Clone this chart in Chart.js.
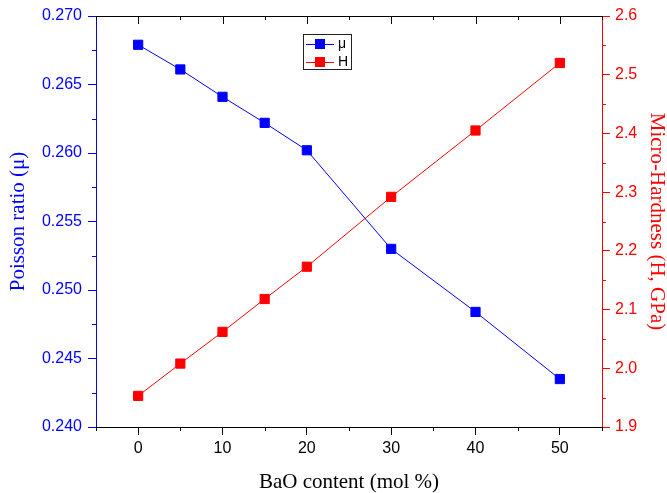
<!DOCTYPE html>
<html>
<head>
<meta charset="utf-8">
<title>Poisson ratio and micro-hardness vs BaO content</title>
<script src="https://cdn.jsdelivr.net/npm/chart.js@4.4.0/dist/chart.umd.min.js"></script>
<style>
  html, body { margin: 0; padding: 0; background: #fff; }
  #wrap { width: 667px; height: 493px; }
</style>
</head>
<body>
<div id="wrap"><canvas id="chart" width="667" height="493"></canvas></div>
<script>
// values
const baoContent = [0, 5, 10, 15, 20, 30, 40, 50];
const poissonRatio = [0.2679, 0.2661, 0.2641, 0.2622, 0.2602, 0.2530, 0.2484, 0.2435];
const microHardness = [1.953, 2.008, 2.062, 2.118, 2.173, 2.292, 2.405, 2.520];

const xTicks = [0, 10, 20, 30, 40, 50];
const poissonTicks = [0.240, 0.245, 0.250, 0.255, 0.260, 0.265, 0.270];
const hardnessTicks = [1.9, 2.0, 2.1, 2.2, 2.3, 2.4, 2.5, 2.6];
const seriesNames = ['μ', 'H'];

const BLUE = '#0000ff';
const RED = '#ff0000';
const SANS = '"Liberation Sans", Arial, sans-serif';
const SERIF = '"Liberation Serif", "Times New Roman", serif';

// midpoints between major ticks (plus half a step outside), clipped to the axis range
const minorValues = (scale) => {
  const vals = scale.ticks.map(t => t.value);
  const step = vals[1] - vals[0];
  const out = [vals[0] - step / 2];
  vals.forEach(v => out.push(v + step / 2));
  return out.filter(v => v >= scale.min - 1e-9 && v <= scale.max + 1e-9);
};

const axisExtras = {
  id: 'axisExtras',
  afterDraw(chart) {
    const ctx = chart.ctx;
    const area = chart.chartArea;
    const { x, y, y1 } = chart.scales;
    ctx.save();
    ctx.lineWidth = 1;

    // top frame line + inward ticks
    ctx.strokeStyle = '#000';
    ctx.beginPath();
    ctx.moveTo(area.left, area.top + 0.5);
    ctx.lineTo(area.right, area.top + 0.5);
    x.ticks.forEach(t => {
      const px = Math.round(x.getPixelForValue(t.value)) + 0.5;
      ctx.moveTo(px, area.top);
      ctx.lineTo(px, area.top + 8);
    });
    minorValues(x).forEach(v => {
      const px = Math.round(x.getPixelForValue(v)) + 0.5;
      ctx.moveTo(px, area.top);
      ctx.lineTo(px, area.top + 4);
      // bottom minor ticks
      ctx.moveTo(px, area.bottom);
      ctx.lineTo(px, area.bottom + 4);
    });
    ctx.stroke();

    // left minor ticks
    ctx.strokeStyle = BLUE;
    ctx.beginPath();
    minorValues(y).forEach(v => {
      const py = Math.round(y.getPixelForValue(v)) + 0.5;
      ctx.moveTo(area.left - 4, py);
      ctx.lineTo(area.left, py);
    });
    ctx.stroke();

    // right minor ticks
    ctx.strokeStyle = RED;
    ctx.beginPath();
    minorValues(y1).forEach(v => {
      const py = Math.round(y1.getPixelForValue(v)) + 0.5;
      ctx.moveTo(area.right, py);
      ctx.lineTo(area.right + 4, py);
    });
    ctx.stroke();
    ctx.restore();
  }
};

// boxed legend with line + square symbol, like the original
const boxLegend = {
  id: 'boxLegend',
  afterDatasetsDraw(chart) {
    const ctx = chart.ctx;
    const area = chart.chartArea;
    const left = area.left + 207;
    const top = area.top + 18;
    const w = 48, h = 35;
    ctx.save();
    ctx.fillStyle = '#fff';
    ctx.fillRect(left, top, w, h);
    ctx.strokeStyle = '#222';
    ctx.lineWidth = 1;
    ctx.strokeRect(left + 0.5, top + 0.5, w, h);
    chart.data.datasets.forEach((ds, i) => {
      const cy = Math.round(top + 10 + i * 17.5) + 0.5;
      ctx.strokeStyle = ds.borderColor;
      ctx.beginPath();
      ctx.moveTo(left + 3, cy);
      ctx.lineTo(left + 31, cy);
      ctx.stroke();
      ctx.fillStyle = ds.borderColor;
      ctx.fillRect(left + 12, cy - 5.5, 10, 10);
      ctx.fillStyle = '#000';
      ctx.font = '14px ' + SANS;
      ctx.textBaseline = 'middle';
      ctx.fillText(ds.label, left + 35, cy);
    });
    ctx.restore();
  }
};

const ctx = document.getElementById('chart');

new Chart(ctx, {
  type: 'line',
  data: {
    datasets: [
      {
        label: seriesNames[0],
        data: baoContent.map((v, i) => ({ x: v, y: poissonRatio[i] })),
        yAxisID: 'y',
        borderColor: BLUE,
        backgroundColor: BLUE,
        borderWidth: 1,
        pointStyle: 'rect',
        pointRadius: 6.5,
        pointBorderWidth: 1,
        pointBorderColor: BLUE,
        pointBackgroundColor: BLUE,
        tension: 0,
      },
      {
        label: seriesNames[1],
        data: baoContent.map((v, i) => ({ x: v, y: microHardness[i] })),
        yAxisID: 'y1',
        borderColor: RED,
        backgroundColor: RED,
        borderWidth: 1,
        pointStyle: 'rect',
        pointRadius: 6.5,
        pointBorderWidth: 1,
        pointBorderColor: RED,
        pointBackgroundColor: RED,
        tension: 0,
      },
    ],
  },
  options: {
    responsive: false,
    animation: false,
    devicePixelRatio: 1,
    layout: { padding: { top: 16, left: 0, right: 0, bottom: 0 } },
    plugins: {
      legend: { display: false },
      tooltip: { enabled: false },
    },
    scales: {
      x: {
        type: 'linear',
        position: 'bottom',
        min: -5,
        max: 55,
        afterBuildTicks: (s) => { s.ticks = xTicks.map(v => ({ value: v })); },
        afterFit: (s) => { s.height = 66; },
        grid: { drawOnChartArea: false, tickLength: 8, tickColor: '#000' },
        border: { color: '#000', width: 1 },
        ticks: {
          color: '#000',
          font: { family: SANS, size: 16 },
          padding: 4,
          maxRotation: 0,
          autoSkip: false,
        },
        title: {
          display: true,
          text: 'BaO content (mol %)',
          color: '#000',
          font: { family: SERIF, size: 21, lineHeight: 1 },
          padding: { top: 0, bottom: 0 },
        },
      },
      y: {
        type: 'linear',
        position: 'left',
        min: 0.24,
        max: 0.27,
        afterBuildTicks: (s) => { s.ticks = poissonTicks.map(v => ({ value: v })); },
        afterFit: (s) => { s.width = 96; },
        grid: { drawOnChartArea: false, tickLength: 8, tickColor: BLUE },
        border: { color: BLUE, width: 1 },
        ticks: {
          color: BLUE,
          font: { family: SANS, size: 16 },
          padding: 6,
          autoSkip: false,
          callback: (v) => v.toFixed(3),
        },
        title: {
          display: true,
          text: 'Poisson ratio (μ)',
          color: BLUE,
          font: { family: SERIF, size: 21, lineHeight: 1 },
          padding: { top: 8, bottom: 0 },
        },
      },
      y1: {
        type: 'linear',
        position: 'right',
        min: 1.9,
        max: 2.6,
        afterBuildTicks: (s) => { s.ticks = hardnessTicks.map(v => ({ value: v })); },
        afterFit: (s) => { s.width = 65; },
        grid: { drawOnChartArea: false, tickLength: 8, tickColor: RED },
        border: { color: RED, width: 1 },
        ticks: {
          color: RED,
          font: { family: SANS, size: 16 },
          padding: 5,
          autoSkip: false,
          callback: (v) => v.toFixed(1),
        },
        title: {
          display: true,
          text: 'Micro-Hardness (H, GPa)',
          color: RED,
          font: { family: SERIF, size: 21, lineHeight: 1 },
          padding: { top: 0, bottom: 0 },
        },
      },
    },
  },
  plugins: [axisExtras, boxLegend],
});
</script>
</body>
</html>
